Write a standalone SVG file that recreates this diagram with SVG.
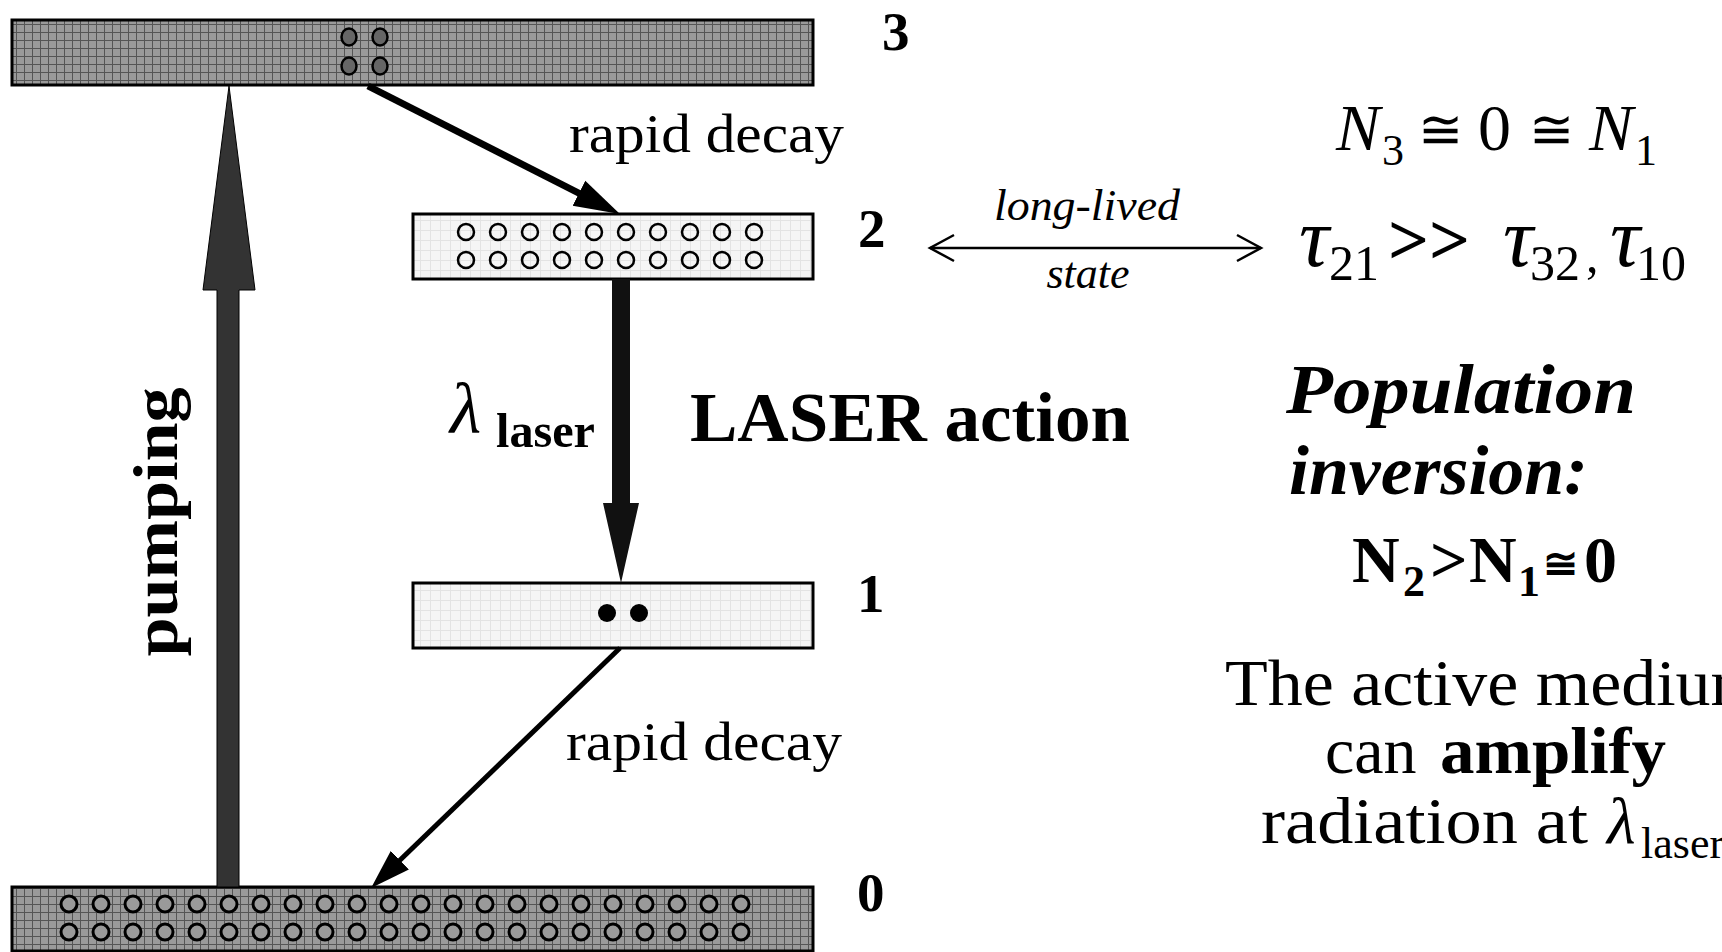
<svg xmlns="http://www.w3.org/2000/svg" width="1722" height="952" viewBox="0 0 1722 952">
<style>
text{font-family:"Liberation Serif","DejaVu Serif",serif;fill:#000}
.lvl{font-weight:bold;font-size:55px}
.bar{stroke:#000;stroke-width:3}
.dk{fill:url(#darkgrid)}
.lt{fill:url(#lightgrid)}
.oc{fill:none;stroke:#000;stroke-width:2.5}
.gc{fill:#9a9a9a;stroke:#000;stroke-width:3}
.lbl{font-size:54px}
.it{font-style:italic}
.b{font-weight:bold}
.cong{font-family:"DejaVu Serif","Liberation Serif",serif}
</style>
<defs>
<pattern id="darkgrid" width="8" height="8" patternUnits="userSpaceOnUse">
<rect width="8" height="8" fill="#9a9a9a"/>
<path d="M0 0.5H8M0.5 0V8" stroke="#555" stroke-width="1"/>
</pattern>
<pattern id="lightgrid" width="10" height="10" patternUnits="userSpaceOnUse">
<rect width="10" height="10" fill="#f5f5f5"/>
<path d="M0 0.5H10M0.5 0V10" stroke="#e3e3e3" stroke-width="1"/>
</pattern>
<marker id="headA" markerUnits="userSpaceOnUse" markerWidth="50" markerHeight="32" viewBox="0 -16 50 32" refX="4" refY="0" orient="auto">
<path d="M0,-14 L46,0 L0,14 z" fill="#000"/>
</marker>
<marker id="headB" markerUnits="userSpaceOnUse" markerWidth="44" markerHeight="30" viewBox="0 -15 44 30" refX="4" refY="0" orient="auto">
<path d="M0,-13 L40,0 L0,13 z" fill="#000"/>
</marker>
<marker id="chev" markerUnits="userSpaceOnUse" markerWidth="30" markerHeight="32" viewBox="-27 -16 30 32" refX="0" refY="0" orient="auto-start-reverse">
<path d="M-24,-13 L0,0 L-24,13" fill="none" stroke="#000" stroke-width="2.5"/>
</marker>
</defs>
<rect width="1722" height="952" fill="#fff"/>

<g id="level3">
<rect class="bar dk" x="12" y="20" width="801" height="65"/>
<ellipse cx="349" cy="37" rx="7.5" ry="8.5" fill="#666" stroke="#000" stroke-width="2.5"/>
<ellipse cx="380" cy="37" rx="7.5" ry="8.5" fill="#666" stroke="#000" stroke-width="2.5"/>
<ellipse cx="349" cy="66" rx="7.5" ry="8.5" fill="#666" stroke="#000" stroke-width="2.5"/>
<ellipse cx="380" cy="66" rx="7.5" ry="8.5" fill="#666" stroke="#000" stroke-width="2.5"/>
<text class="lvl" x="882" y="50">3</text>
</g>

<g id="level2">
<rect class="bar lt" x="413" y="214" width="400" height="65"/>
<g class="oc">
<circle cx="466" cy="232" r="8"/><circle cx="498" cy="232" r="8"/><circle cx="530" cy="232" r="8"/><circle cx="562" cy="232" r="8"/><circle cx="594" cy="232" r="8"/><circle cx="626" cy="232" r="8"/><circle cx="658" cy="232" r="8"/><circle cx="690" cy="232" r="8"/><circle cx="722" cy="232" r="8"/><circle cx="754" cy="232" r="8"/>
<circle cx="466" cy="260" r="8"/><circle cx="498" cy="260" r="8"/><circle cx="530" cy="260" r="8"/><circle cx="562" cy="260" r="8"/><circle cx="594" cy="260" r="8"/><circle cx="626" cy="260" r="8"/><circle cx="658" cy="260" r="8"/><circle cx="690" cy="260" r="8"/><circle cx="722" cy="260" r="8"/><circle cx="754" cy="260" r="8"/>
</g>
<text class="lvl" x="858" y="247">2</text>
</g>

<g id="level1">
<rect class="bar lt" x="413" y="583" width="400" height="65"/>
<circle cx="607" cy="613" r="9" fill="#000"/>
<circle cx="639" cy="613" r="9" fill="#000"/>
<text class="lvl" x="857" y="612">1</text>
</g>

<g id="level0">
<rect class="bar dk" x="12" y="887" width="801" height="64"/>
<g class="gc">
<circle cx="69" cy="904" r="8"/><circle cx="101" cy="904" r="8"/><circle cx="133" cy="904" r="8"/><circle cx="165" cy="904" r="8"/><circle cx="197" cy="904" r="8"/><circle cx="229" cy="904" r="8"/><circle cx="261" cy="904" r="8"/><circle cx="293" cy="904" r="8"/><circle cx="325" cy="904" r="8"/><circle cx="357" cy="904" r="8"/><circle cx="389" cy="904" r="8"/><circle cx="421" cy="904" r="8"/><circle cx="453" cy="904" r="8"/><circle cx="485" cy="904" r="8"/><circle cx="517" cy="904" r="8"/><circle cx="549" cy="904" r="8"/><circle cx="581" cy="904" r="8"/><circle cx="613" cy="904" r="8"/><circle cx="645" cy="904" r="8"/><circle cx="677" cy="904" r="8"/><circle cx="709" cy="904" r="8"/><circle cx="741" cy="904" r="8"/>
<circle cx="69" cy="932" r="8"/><circle cx="101" cy="932" r="8"/><circle cx="133" cy="932" r="8"/><circle cx="165" cy="932" r="8"/><circle cx="197" cy="932" r="8"/><circle cx="229" cy="932" r="8"/><circle cx="261" cy="932" r="8"/><circle cx="293" cy="932" r="8"/><circle cx="325" cy="932" r="8"/><circle cx="357" cy="932" r="8"/><circle cx="389" cy="932" r="8"/><circle cx="421" cy="932" r="8"/><circle cx="453" cy="932" r="8"/><circle cx="485" cy="932" r="8"/><circle cx="517" cy="932" r="8"/><circle cx="549" cy="932" r="8"/><circle cx="581" cy="932" r="8"/><circle cx="613" cy="932" r="8"/><circle cx="645" cy="932" r="8"/><circle cx="677" cy="932" r="8"/><circle cx="709" cy="932" r="8"/><circle cx="741" cy="932" r="8"/>
</g>
<text class="lvl" x="857" y="911">0</text>
</g>

<g id="connectors">
<polygon id="pumping-arrow" points="217,887 217,290 203,290 229,86 255,290 239,290 239,887" fill="#333" stroke="#000" stroke-width="1"/>
<polygon id="laser-arrow" points="612,279 612,503 603,503 621,583 639,503 630,503 630,279" fill="#111"/>
<line id="decay32" x1="368" y1="86" x2="582.5" y2="195" stroke="#000" stroke-width="7" marker-end="url(#headA)"/>
<line id="decay10" x1="620" y1="648" x2="397" y2="863" stroke="#000" stroke-width="5" marker-end="url(#headB)"/>
<line id="longlived" x1="930" y1="248" x2="1261" y2="248" stroke="#000" stroke-width="2.5" marker-start="url(#chev)" marker-end="url(#chev)"/>
</g>

<g id="labels">
<text class="lbl" x="569" y="152" textLength="275" lengthAdjust="spacingAndGlyphs">rapid decay</text>
<text class="lbl" x="566" y="760" textLength="276" lengthAdjust="spacingAndGlyphs">rapid decay</text>
<text class="b" font-size="64" transform="translate(177,522) rotate(-90)" text-anchor="middle" textLength="269" lengthAdjust="spacingAndGlyphs">pumping</text>
<text class="it" font-size="72" x="450" y="433">λ</text>
<text class="b" font-size="48" x="496" y="447" textLength="99" lengthAdjust="spacingAndGlyphs">laser</text>
<text class="b" font-size="70" x="690" y="441" textLength="440" lengthAdjust="spacingAndGlyphs">LASER action</text>
<text class="it" font-size="44" x="1087" y="220" text-anchor="middle" textLength="186" lengthAdjust="spacingAndGlyphs">long-lived</text>
<text class="it" font-size="44" x="1088" y="288" text-anchor="middle">state</text>
</g>

<g id="equations">
<text font-size="66"><tspan class="it" x="1336" y="150">N</tspan><tspan x="1382" y="165" font-size="44">3</tspan><tspan class="cong" x="1418" y="148" font-size="54">≅</tspan><tspan x="1478" y="150">0</tspan><tspan class="cong" x="1529" y="148" font-size="54">≅</tspan><tspan class="it" x="1589" y="150">N</tspan><tspan x="1635" y="165" font-size="44">1</tspan></text>
<text font-size="84"><tspan class="it" x="1299" y="266">τ</tspan><tspan x="1329" y="280" font-size="50">21</tspan><tspan class="b" x="1388" y="264" font-size="72">&gt;&gt;</tspan><tspan class="it" x="1503" y="266">τ</tspan><tspan x="1530" y="280" font-size="50">32</tspan><tspan x="1586" y="272" font-size="50">,</tspan><tspan class="it" x="1610" y="266">τ</tspan><tspan x="1636" y="280" font-size="50">10</tspan></text>
<text class="b it" font-size="70" x="1286" y="413" textLength="350" lengthAdjust="spacingAndGlyphs">Population</text>
<text class="b it" font-size="70" x="1289" y="494" textLength="299" lengthAdjust="spacingAndGlyphs">inversion:</text>
<text class="b" font-size="66"><tspan x="1352" y="582">N</tspan><tspan x="1403" y="596" font-size="44">2</tspan><tspan x="1430" y="582">&gt;</tspan><tspan x="1469" y="582">N</tspan><tspan x="1518" y="596" font-size="44">1</tspan><tspan class="cong" x="1543" y="578" font-size="42">≅</tspan><tspan x="1584" y="582">0</tspan></text>
<text font-size="66" x="1225" y="705" textLength="540" lengthAdjust="spacingAndGlyphs">The active medium</text>
<text font-size="66" y="773"><tspan x="1325">can</tspan><tspan class="b" x="1440" textLength="226" lengthAdjust="spacingAndGlyphs">amplify</tspan></text>
<text font-size="66" y="843"><tspan x="1261" textLength="327" lengthAdjust="spacingAndGlyphs">radiation at</tspan><tspan class="it" x="1607" font-size="66">λ</tspan><tspan x="1641" y="858" font-size="44">laser</tspan></text>
</g>
</svg>
